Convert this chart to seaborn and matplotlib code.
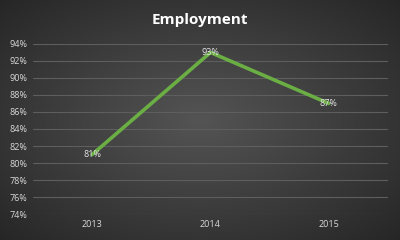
import numpy as np
import pandas as pd
import matplotlib
matplotlib.use("Agg")
import matplotlib.pyplot as plt
import seaborn as sns

# chart data
years = ["2013", "2014", "2015"]
employment = [81, 93, 87]
y_ticks = [74, 76, 78, 80, 82, 84, 86, 88, 90, 92, 94]

df = pd.DataFrame({"year": years, "employment": employment})

sns.set_style("dark")
plt.rcParams["font.family"] = ["Open Sans", "DejaVu Sans"]

fig = plt.figure(figsize=(4, 2.4), dpi=100)

# radial dark background: lighter in the middle, darker at the corners
bg = fig.add_axes([0, 0, 1, 1], zorder=0)
yy, xx = np.mgrid[-1:1:240j, -1:1:400j]
r = np.clip(np.sqrt(xx ** 2 + yy ** 2) / np.sqrt(2), 0, 1)
g = 0.33 - 0.18 * r
bg.imshow(np.dstack([g, g, g]), aspect="auto", extent=[0, 1, 0, 1])
bg.axis("off")

ax = fig.add_axes([0.0825, 0.108, 0.8875, 0.709], zorder=1)
ax.patch.set_alpha(0)

sns.lineplot(data=df, x="year", y="employment", ax=ax, color="#6aae44",
             linewidth=2.6, sort=False)

for i, v in enumerate(employment):
    ax.text(i, v, f"{v}%", ha="center", va="center", color="#e6e6e6", fontsize=6.5)

ax.set_xlim(-0.5, 2.5)
ax.set_ylim(74, 94)
ax.set_yticks(y_ticks)
ax.set_yticklabels([f"{t}%" for t in y_ticks])
ax.grid(axis="y", color="#5e5e5e", linewidth=0.8)
ax.grid(axis="x", visible=False)
ax.tick_params(colors="#d9d9d9", labelsize=6.5, length=0, pad=4)
ax.set_xlabel("")
ax.set_ylabel("")
for s in ax.spines.values():
    s.set_visible(False)

fig.text(0.5, 0.915, "Employment", ha="center", va="center", color="white",
         fontsize=11, fontweight="bold")

fig.savefig("out.png", dpi=100)
